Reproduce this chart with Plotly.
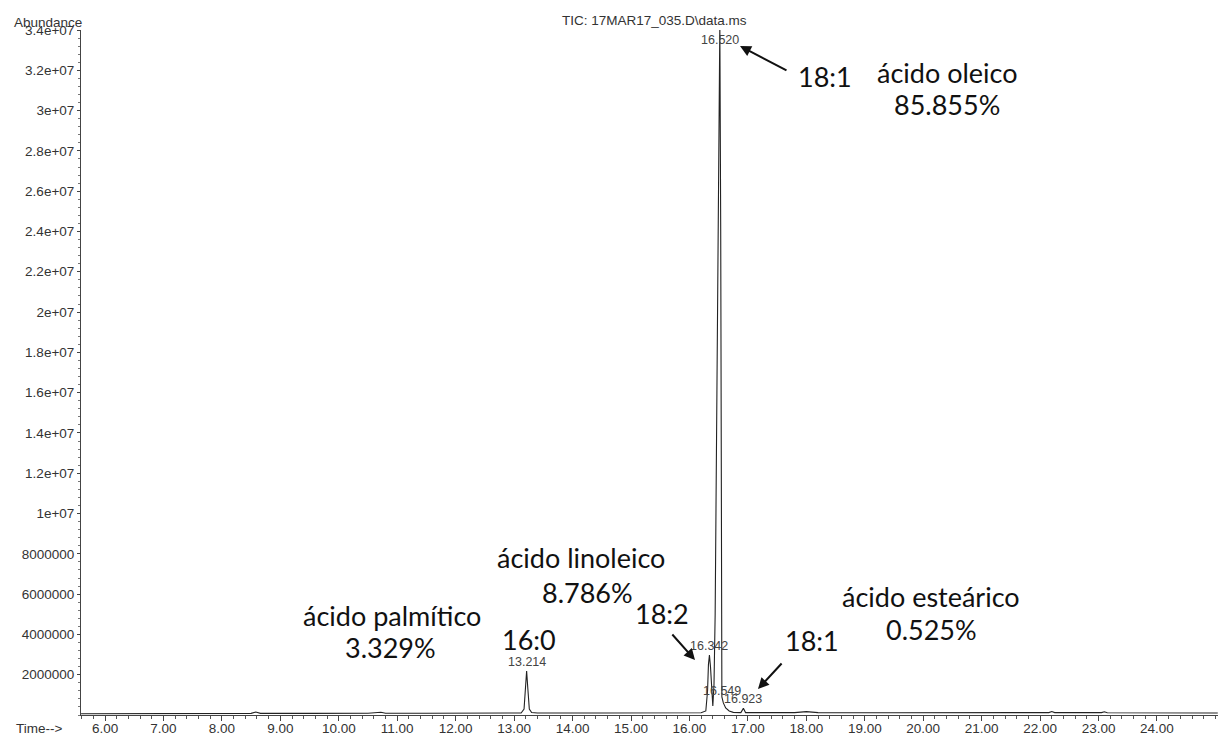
import plotly.graph_objects as go

# ---- chromatogram trace (time in min, abundance) ----
time_min = [5.59, 6.50, 7.50, 8.50, 8.58, 8.66, 9.50, 10.50, 10.72, 10.80, 11.50, 12.50,
            13.12, 13.17, 13.19, 13.214, 13.235, 13.26, 13.30, 13.40, 14.50, 15.50, 16.20,
            16.28, 16.31, 16.325, 16.342, 16.36, 16.38, 16.40, 16.42, 16.44, 16.47, 16.50,
            16.52, 16.535, 16.545, 16.555, 16.58, 16.62, 16.68, 16.75, 16.88, 16.923, 16.96,
            17.50, 17.80, 18.00, 18.20, 19.50, 21.00, 22.15, 22.20, 22.25, 23.05, 23.10,
            23.15, 24.20, 25.04]
abundance = [60000, 70000, 70000, 80000, 150000, 80000, 80000, 90000, 140000, 90000, 90000, 90000,
             100000, 300000, 1500000, 2180000, 1300000, 300000, 120000, 100000, 100000, 100000, 110000,
             200000, 1200000, 2500000, 2980000, 2400000, 1000000, 450000, 1500000, 5000000, 16000000, 30000000,
             34300000, 24000000, 8000000, 900000, 600000, 350000, 200000, 130000, 120000, 330000, 120000,
             110000, 120000, 170000, 120000, 110000, 110000, 120000, 170000, 120000, 120000, 160000,
             110000, 100000, 100000]

# ---- labelled peaks ----
peak_rt = [13.214, 16.342, 16.520, 16.549, 16.923]
peak_abund = [2180000, 2980000, 34000000, 750000, 330000]
peak_text = ["13.214", "16.342", "16.520", "16.549", "16.923"]

# ---- axis ticks ----
x_tick_vals = [6, 7, 8, 9, 10, 11, 12, 13, 14, 15, 16, 17, 18, 19, 20, 21, 22, 23, 24]
x_tick_text = ["6.00", "7.00", "8.00", "9.00", "10.00", "11.00", "12.00", "13.00", "14.00",
               "15.00", "16.00", "17.00", "18.00", "19.00", "20.00", "21.00", "22.00", "23.00", "24.00"]
y_tick_vals = [2e6, 4e6, 6e6, 8e6, 1e7, 1.2e7, 1.4e7, 1.6e7, 1.8e7, 2e7, 2.2e7, 2.4e7,
               2.6e7, 2.8e7, 3e7, 3.2e7, 3.4e7]
y_tick_text = ["2000000", "4000000", "6000000", "8000000", "1e+07", "1.2e+07", "1.4e+07",
               "1.6e+07", "1.8e+07", "2e+07", "2.2e+07", "2.4e+07", "2.6e+07", "2.8e+07",
               "3e+07", "3.2e+07", "3.4e+07"]

# ---- large annotations: (text, time, abundance) ----
big_labels = [
    ("18:1", 18.32, 3.167e7),
    ("ácido oleico", 20.407, 3.19e7),
    ("85.855%", 20.407, 3.028e7),
    ("ácido linoleico", 14.145, 7.84e6),
    ("8.786%", 14.25, 6.10e6),
    ("ácido palmítico", 10.91, 4.96e6),
    ("3.329%", 10.89, 3.33e6),
    ("16:0", 13.255, 3.77e6),
    ("18:2", 15.53, 5.06e6),
    ("18:1", 18.097, 3.72e6),
    ("ácido esteárico", 20.133, 5.86e6),
    ("0.525%", 20.15, 4.22e6),
]
# arrows: head (time, abundance), tail offset in px
arrows = [
    (16.865, 3.32e7, 48, 25),
    (16.095, 2.73e6, -24, -27),
    (17.173, 1.29e6, 25, -27),
]

X_RANGE = [5.589, 25.044]
Y_RANGE = [0, 3.4e7]
AXIS_FONT = dict(family="Liberation Sans, Arial, sans-serif", size=13.5, color="#333333")
PEAK_FONT = dict(family="Liberation Sans, Arial, sans-serif", size=12.5, color="#444444")
BIG_FONT = dict(family="Lato, Open Sans, sans-serif", size=27, color="#111111")

fig = go.Figure()
fig.add_trace(go.Scatter(x=time_min, y=abundance, mode="lines",
                         line=dict(color="#222222", width=1.1), hoverinfo="skip",
                         showlegend=False))

annotations = []
for rt, ab, txt in zip(peak_rt, peak_abund, peak_text):
    at_top = ab >= Y_RANGE[1]
    annotations.append(dict(x=rt, y=min(ab, Y_RANGE[1]), xref="x", yref="y", text=txt,
                            showarrow=False, font=PEAK_FONT,
                            yanchor="top" if at_top else "bottom",
                            yshift=-1 if at_top else 0, xanchor="center"))

for txt, t, a in big_labels:
    annotations.append(dict(x=t, y=a, xref="x", yref="y", text=txt, showarrow=False,
                            font=BIG_FONT, xanchor="center", yanchor="middle"))

for t, a, axp, ayp in arrows:
    annotations.append(dict(x=t, y=a, xref="x", yref="y", text="", showarrow=True,
                            ax=axp, ay=ayp, axref="pixel", ayref="pixel",
                            arrowhead=2, arrowsize=1.1, arrowwidth=2, arrowcolor="#111111"))

annotations += [
    dict(x=0.504, y=1, xref="paper", yref="paper", yshift=10, text="TIC: 17MAR17_035.D\\data.ms",
         showarrow=False, font=AXIS_FONT, xanchor="center", yanchor="middle"),
    dict(x=-0.0607, y=1, xref="paper", yref="paper", yshift=8, text="Abundance",
         showarrow=False, font=AXIS_FONT, xanchor="left", yanchor="middle"),
    dict(x=-0.0589, y=0, xref="paper", yref="paper", yshift=-13, text="Time-->",
         showarrow=False, font=AXIS_FONT, xanchor="left", yanchor="middle"),
]

fig.update_layout(
    width=1220, height=736,
    margin=dict(l=81, r=2, t=30, b=21, autoexpand=False),
    paper_bgcolor="white", plot_bgcolor="white",
    annotations=annotations,
    xaxis=dict(range=X_RANGE, showgrid=False, zeroline=False, showline=True,
               linecolor="#444444", linewidth=1, tickmode="array",
               tickvals=x_tick_vals, ticktext=x_tick_text, ticks="outside", ticklen=5,
               tickcolor="#444444", tickfont=AXIS_FONT, automargin=False,
               ticklabelstandoff=-4,
               minor=dict(tickmode="linear", tick0=0, dtick=0.2, ticks="outside",
                          ticklen=3, tickcolor="#555555")),
    yaxis=dict(range=Y_RANGE, showgrid=False, zeroline=False, showline=True,
               linecolor="#444444", linewidth=1, tickmode="array",
               tickvals=y_tick_vals, ticktext=y_tick_text, ticks="outside", ticklen=3,
               tickcolor="#444444", tickfont=AXIS_FONT, automargin=False,
               minor=dict(tickmode="linear", tick0=0, dtick=400000, ticks="outside",
                          ticklen=2, tickcolor="#777777")),
)

fig.write_html("out.html", config={"displayModeBar": False},
               post_script="document.body.style.margin='0px';document.body.style.overflow='hidden';")
